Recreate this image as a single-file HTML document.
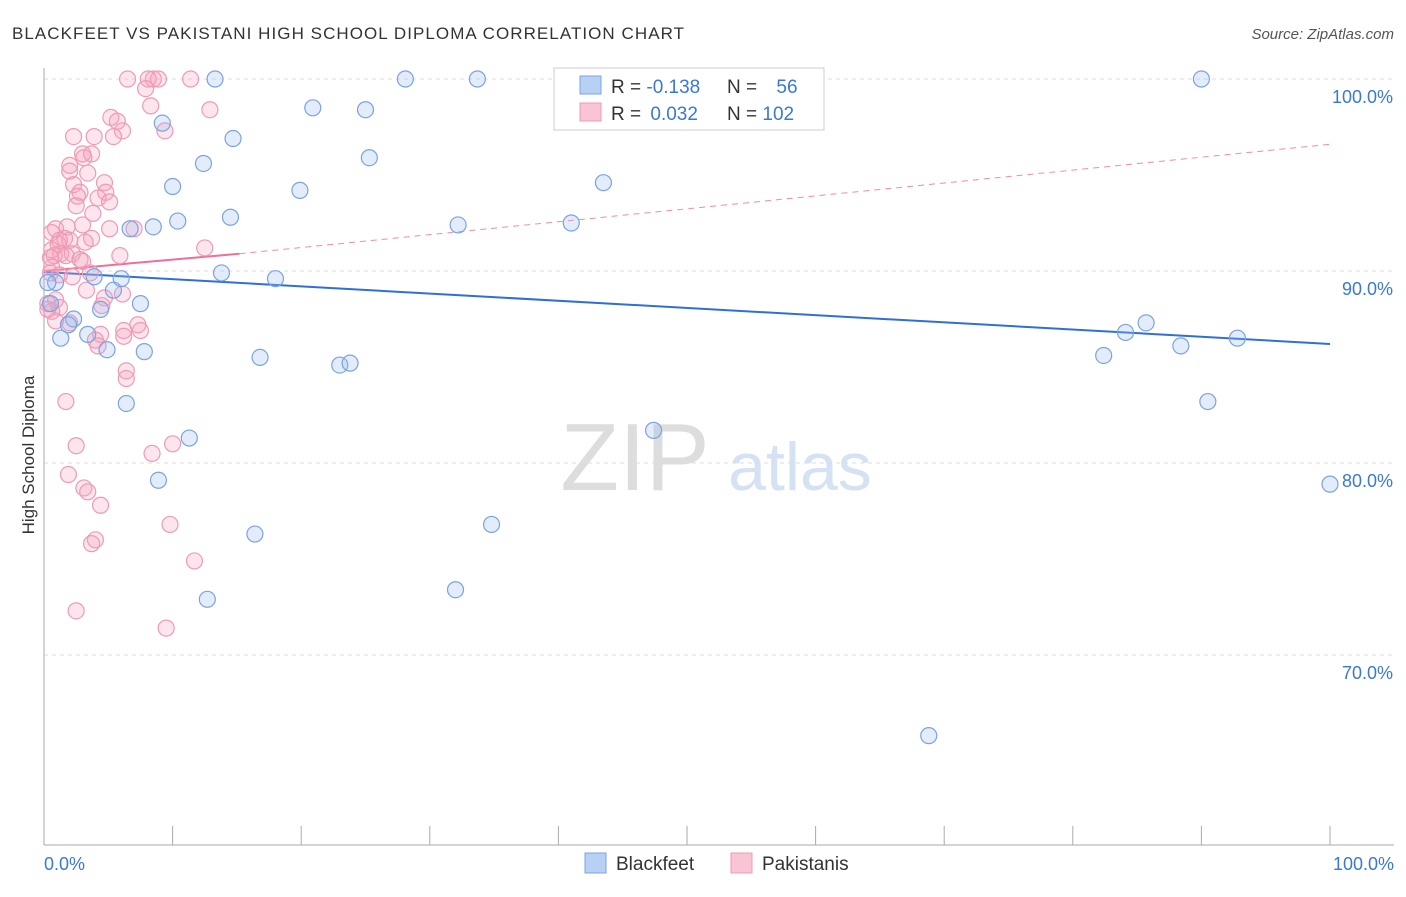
<!DOCTYPE html>
<html><head><meta charset="utf-8"><style>
body{margin:0;background:#fff;font-family:"Liberation Sans",sans-serif;}
svg text{font-family:"Liberation Sans",sans-serif;}
</style></head><body>
<svg width="1406" height="892" viewBox="0 0 1406 892">
<text x="12" y="39" font-size="17" fill="#333" textLength="672" lengthAdjust="spacing">BLACKFEET VS PAKISTANI HIGH SCHOOL DIPLOMA CORRELATION CHART</text>
<text x="1394" y="39" font-size="15" fill="#555" font-style="italic" text-anchor="end">Source: ZipAtlas.com</text>
<g>
<text x="635" y="490" font-size="96" fill="#ddd" font-family="Liberation Serif" text-anchor="middle">ZIP</text>
<text x="800" y="490" font-size="68" fill="#d5e2f3" text-anchor="middle">atlas</text>
</g>
<g id="grid"></g>
<g id="axes"></g>
<text x="-455" y="34" font-size="17" fill="#333" transform="rotate(-90)" text-anchor="middle">High School Diploma</text>
<g id="lines"></g>
<g id="pts"></g>
<g>
<rect x="554" y="68" width="270" height="62" fill="#fff" stroke="#ccc"/>
<rect x="580" y="76" width="21" height="18" fill="#b7d0f3" stroke="#7ba3e0"/>
<rect x="580" y="103" width="21" height="18" fill="#f9c4d4" stroke="#f09ab5"/>
<text x="611" y="93" font-size="19" fill="#333">R = <tspan fill="#3a78d4">-0.138</tspan></text>
<text x="727" y="93" font-size="19" fill="#333">N = <tspan fill="#3a78d4" dx="14">56</tspan></text>
<text x="611" y="120" font-size="19" fill="#333">R = <tspan fill="#3a78d4" dx="4">0.032</tspan></text>
<text x="727" y="120" font-size="19" fill="#333">N = <tspan fill="#3a78d4">102</tspan></text>
</g>
<g>
<rect x="585" y="853" width="21" height="20" fill="#b7d0f3" stroke="#7ba3e0"/>
<text x="616" y="870" font-size="19" fill="#333">Blackfeet</text>
<rect x="731" y="853" width="21" height="20" fill="#f9c4d4" stroke="#f09ab5"/>
<text x="762" y="870" font-size="19" fill="#333">Pakistanis</text>
</g>
</svg>
<script>
const yTicks=[100,90,80,70];
const yTickLabels=["100.0%","90.0%","80.0%","70.0%"];
const xTickCount=10;
const xLabels=["0.0%","100.0%"];
const blueX=[13.3,28.1,33.7,40.4,46.7,90.0,20.9,25.0,9.2,14.7,25.3,12.4,43.5,10.0,19.9,14.5,10.4,8.5,6.7,32.2,41.0,13.8,18.0,6.0,3.9,0.9,7.5,5.4,4.4,2.3,1.9,1.3,3.4,4.9,7.8,16.8,23.0,23.8,6.4,11.3,47.4,8.9,16.4,34.8,32.0,12.7,68.8,85.7,84.1,82.4,88.4,92.8,90.5,100,0.3,0.5];
const blueY=[100,100,100,100,100,100,98.5,98.4,97.7,96.9,95.9,95.6,94.6,94.4,94.2,92.8,92.6,92.3,92.2,92.4,92.5,89.9,89.6,89.6,89.7,89.4,88.3,89.0,88.0,87.5,87.2,86.5,86.7,85.9,85.8,85.5,85.1,85.2,83.1,81.3,81.7,79.1,76.3,76.8,73.4,72.9,65.8,87.3,86.8,85.6,86.1,86.5,83.2,78.9,89.4,88.3];
const pinkX=[6.5,8.5,8.9,11.4,8.1,7.9,8.3,12.9,5.2,6.1,9.4,5.7,2.3,3.9,5.4,3.0,3.7,2.0,3.1,2.0,3.4,4.7,2.3,4.8,2.8,2.6,4.2,5.1,2.5,3.8,0.9,1.8,3.0,5.1,7.0,0.6,1.6,3.7,1.2,2.0,1.1,3.2,12.5,0.6,0.8,1.3,2.2,1.7,0.5,2.8,5.9,3.0,0.6,0.5,1.2,3.6,2.2,3.3,4.7,6.1,0.9,0.3,1.2,4.5,0.6,0.3,2.0,0.9,7.3,6.2,7.5,4.4,6.2,4.0,4.2,6.4,6.4,1.7,2.5,8.4,10.0,1.9,3.1,3.4,4.4,9.8,4.0,3.7,11.7,2.5,9.5];
const pinkY=[100,100,100,100,100,99.5,98.6,98.4,98.0,97.3,97.3,97.8,97.0,97.0,97.0,96.1,96.1,95.5,95.9,95.2,95.1,94.6,94.5,94.1,94.1,93.9,93.8,93.6,93.4,93.0,92.2,92.3,92.4,92.2,92.2,92.0,91.7,91.7,91.6,91.6,91.4,91.5,91.2,91.1,90.8,90.9,90.9,90.8,90.7,90.6,90.8,90.5,90.2,89.9,89.8,89.9,89.7,89.0,88.6,88.8,88.5,88.3,88.1,88.2,87.9,88.0,87.3,87.4,87.2,86.9,86.9,86.7,86.6,86.4,86.1,84.8,84.4,83.2,80.9,80.5,81.0,79.4,78.7,78.5,77.8,76.8,76.0,75.8,74.9,72.3,71.4];
const blueTrend=[89.95,86.2];
const pinkTrend=[90.0,90.9,96.6];
const pinkSolidEnd=15.2;

const X=v=>44+v*12.86, Y=v=>79+(100-v)*19.2;
const NS="http://www.w3.org/2000/svg";
function mk(t,a,p){const e=document.createElementNS(NS,t);for(const k in a)e.setAttribute(k,a[k]);p.appendChild(e);return e;}
const grid=document.getElementById('grid'),axes=document.getElementById('axes'),lines=document.getElementById('lines'),pts=document.getElementById('pts');
yTicks.forEach((t,i)=>{
 const l=mk('line',{x1:44,x2:1394,y1:Y(t),y2:Y(t),stroke:'#ddd','stroke-dasharray':'4,4'},grid);
 
 
 const tx=mk('text',{x:1393,y:Y(t)+24,'font-size':18,fill:'#3a78d4','text-anchor':'end'},grid);
 tx.textContent=yTickLabels[i];
 
 
});
let a=mk('line',{x1:44,x2:44,y1:68,y2:845,stroke:'#aaa'},axes);


a=mk('line',{x1:44,x2:1394,y1:845,y2:845,stroke:'#aaa'},axes);


for(let i=0;i<=xTickCount;i++){
 const t=mk('line',{x1:X(i*10),x2:X(i*10),y1:826,y2:845,stroke:'#aaa'},axes);
 
 
}
[[0,'start',44],[100,'end',1394]].forEach((d,i)=>{
 const t=mk('text',{x:d[2],y:870,'font-size':18,fill:'#3a78d4','text-anchor':d[1]},axes);
 t.textContent=xLabels[i];
 
 
});
function dots(xs,ys,fill,stroke,name){
 xs.forEach((x,i)=>{
  const c=mk('circle',{cx:X(x),cy:Y(ys[i]),r:8,fill:fill,stroke:stroke,'stroke-width':1.2},pts);
  
  
 });
}
dots(pinkX,pinkY,'rgba(244,160,188,0.28)','#f09ab5','pakistanis-point');
dots(blueX,blueY,'rgba(150,185,240,0.28)','#7ba3e0','blackfeet-point');
let ln=mk('line',{x1:X(0),y1:Y(blueTrend[0]),x2:X(100),y2:Y(blueTrend[1]),stroke:'#2f6fd6','stroke-width':2},lines);


ln=mk('line',{x1:X(pinkSolidEnd),y1:Y(pinkTrend[1]),x2:X(100),y2:Y(pinkTrend[2]),stroke:'#f08aaa','stroke-width':1,'stroke-dasharray':'6,5'},lines);


ln=mk('line',{x1:X(0),y1:Y(pinkTrend[0]),x2:X(pinkSolidEnd),y2:Y(pinkTrend[1]),stroke:'#ee6f98','stroke-width':2},lines);


</script>
</body></html>
